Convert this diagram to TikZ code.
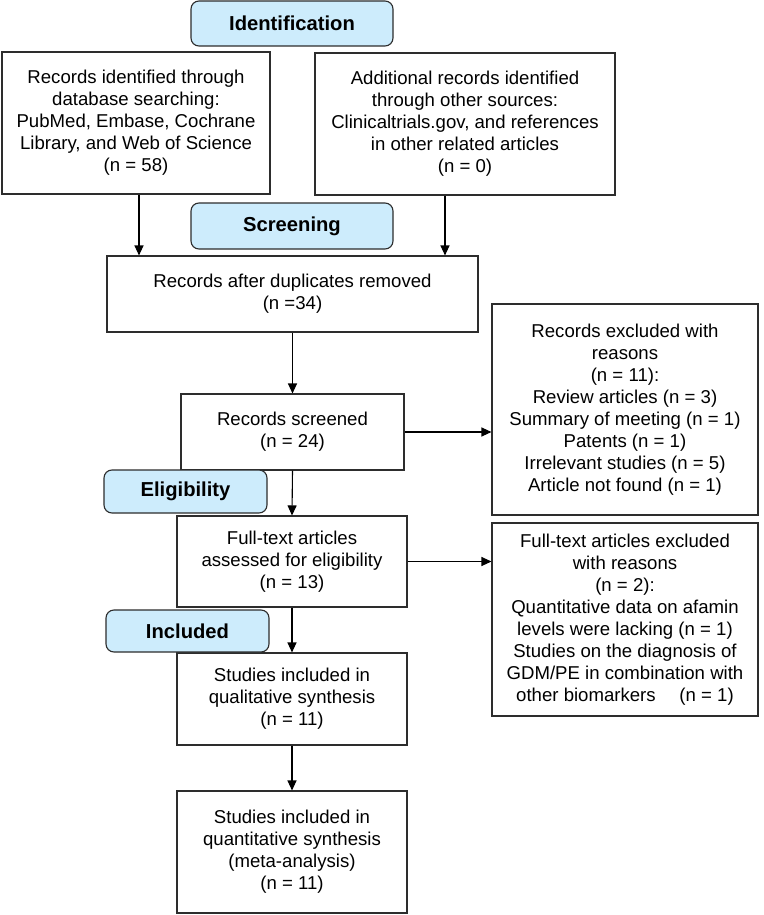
\documentclass[tikz,border=0pt]{standalone}
\usepackage{fontspec}
\setmainfont{Liberation Sans}
\usetikzlibrary{arrows.meta}
\definecolor{hdrfill}{RGB}{205,236,252}
\definecolor{edge}{RGB}{45,45,45}
\begin{document}
\begin{tikzpicture}[x=1pt,y=-1pt,
  box/.style={draw=edge,line width=1.1pt,fill=white,inner sep=0pt,align=center,
    font=\fontsize{18.6}{22}\selectfont},
  hdr/.style={draw=edge,line width=1.1pt,fill=hdrfill,rounded corners=8pt,inner sep=0pt,
    align=center,font=\fontsize{20.2}{22}\selectfont\bfseries},
  arr/.style={draw=black,line width=1.1pt,-{Triangle[length=10pt,width=9pt]}}]
\useasboundingbox (0,0) rectangle (763,915);
\fill[white] (0,0) rectangle (763,915);
% headers
\node[hdr,minimum width=202pt,minimum height=45pt] (id) at (292,23.5) {Identification};
\node[box,minimum width=268pt,minimum height=142pt] (b1) at (136,123)
  {Records identified through\\database searching:\\PubMed, Embase, Cochrane\\Library, and Web of Science\\(n = 58)};
\node[box,minimum width=300pt,minimum height=142pt] (b2) at (465,124)
  {Additional records identified\\through other sources:\\Clinicaltrials.gov, and references\\in other related articles\\(n = 0)};
\node[hdr,minimum width=202pt,minimum height=46pt] (scr) at (292,226) {Screening};
\node[box,minimum width=371pt,minimum height=76pt] (b3) at (292.5,294)
  {Records after duplicates removed\\(n =34)};
\node[box,minimum width=223pt,minimum height=76pt] (b4) at (292.5,432)
  {Records screened\\(n = 24)};
\node[box,minimum width=266pt,minimum height=211pt] (rx1) at (625,409.5)
  {Records excluded with\\reasons\\(n = 11):\\Review articles (n = 3)\\Summary of meeting (n = 1)\\Patents (n = 1)\\Irrelevant studies (n = 5)\\Article not found (n = 1)};
\node[box,minimum width=230pt,minimum height=91pt] (b5) at (292,561.5)
  {Full-text articles\\assessed for eligibility\\(n = 13)};
\node[hdr,minimum width=163pt,minimum height=43pt] (elig) at (185.5,491.5) {Eligibility};
\node[box,minimum width=266pt,minimum height=193pt] (rx2) at (625,619.5)
  {Full-text articles excluded\\with reasons\\(n = 2):\\Quantitative data on afamin\\levels were lacking (n = 1)\\Studies on the diagnosis of\\GDM/PE in combination with\\other biomarkers\quad\ (n = 1)};
\node[box,minimum width=230pt,minimum height=92pt] (b6) at (292,699)
  {Studies included in\\qualitative synthesis\\(n = 11)};
\node[hdr,minimum width=163pt,minimum height=42pt] (incl) at (187.5,631) {Included};
\node[box,minimum width=230pt,minimum height=122pt] (b7) at (292,852)
  {Studies included in\\quantitative synthesis\\(meta-analysis)\\(n = 11)};
% connectors
\coordinate (a1) at (139,194);
\coordinate (a2) at (445,195);
\draw[arr] (a1 |- b1.south) -- (a1 |- b3.north);
\draw[arr] (a2 |- b2.south) -- (a2 |- b3.north);
\draw[arr] (b3.south) -- (b4.north);
\draw[arr] (b4.east) -- (b4.east -| rx1.west);
\draw[arr] (b4.south) -- (b5.north);
\draw[arr] (b5.east) -- (b5.east -| rx2.west);
\draw[arr] (b5.south) -- (b6.north);
\draw[arr] (b6.south) -- (b7.north);
\end{tikzpicture}
\end{document}
